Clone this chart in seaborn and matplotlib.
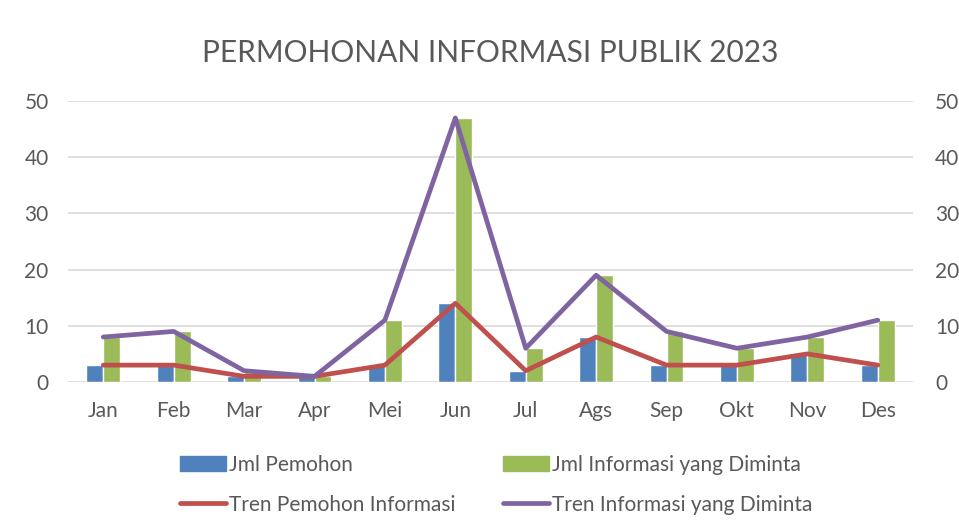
import numpy as np
import pandas as pd
import matplotlib
matplotlib.use("Agg")
import matplotlib.pyplot as plt
import seaborn as sns
from matplotlib.lines import Line2D
from matplotlib.patches import Patch

# ===============================
# Data
# ===============================

months = ["Jan", "Feb", "Mar", "Apr", "Mei", "Jun", "Jul", "Ags", "Sep", "Okt", "Nov", "Des"]
jml_pemohon = [3, 3, 1, 1, 3, 14, 2, 8, 3, 3, 5, 3]
jml_informasi = [8, 9, 2, 1, 11, 47, 6, 19, 9, 6, 8, 11]

bar_labels = ["Jml Pemohon", "Jml Informasi yang Diminta"]
line_labels = ["Tren Pemohon Informasi", "Tren Informasi yang Diminta"]

blue = "#4F81BD"
green = "#9BBB59"
red = "#C0504D"
purple = "#8064A2"
text_color = "#595959"

bars = pd.DataFrame({
    "Bulan": months * 2,
    "Jumlah": jml_pemohon + jml_informasi,
    "Seri": [bar_labels[0]] * len(months) + [bar_labels[1]] * len(months),
})

# ===============================
# Chart
# ===============================

sns.set_theme(style="white")
plt.rcParams["font.family"] = ["Lato", "DejaVu Sans"]

fig = plt.figure(figsize=(9.59, 5.32), dpi=100)
ax = fig.add_axes([0.071, 0.282, 0.881, 0.528])

sns.barplot(data=bars, x="Bulan", y="Jumlah", hue="Seri",
            palette=[blue, green], width=0.48, ax=ax,
            legend=False, saturation=1, zorder=2)

sns.lineplot(x=months, y=jml_pemohon, color=red, linewidth=3.4,
             sort=False, ax=ax, zorder=3)
sns.lineplot(x=months, y=jml_informasi, color=purple, linewidth=3.4,
             sort=False, ax=ax, zorder=3)

ax.set_ylim(0, 50)
ax.set_xlim(-0.5, len(months) - 0.5)
ax.set_yticks(range(0, 51, 10))
ax.yaxis.grid(True, color="#D9D9D9", linewidth=1.2, zorder=0)
ax.set_axisbelow(True)
ax.set_xlabel("")
ax.set_ylabel("")
for s in ax.spines.values():
    s.set_visible(False)
ax.tick_params(axis="both", length=0, labelsize=15, colors=text_color)
ax.tick_params(axis="x", pad=14)
ax.tick_params(axis="y", pad=14)

ax2 = ax.twinx()
ax2.set_ylim(0, 50)
ax2.set_yticks(range(0, 51, 10))
for s in ax2.spines.values():
    s.set_visible(False)
ax2.tick_params(axis="y", length=0, labelsize=15, colors=text_color, pad=16)
ax2.grid(False)

fig.text(0.511, 0.900, "PERMOHONAN INFORMASI PUBLIK 2023", ha="center", va="center",
         fontsize=21.5, color=text_color)

handles = [
    Patch(color=blue), Line2D([], [], color=red, linewidth=3.4, solid_capstyle="round"),
    Patch(color=green), Line2D([], [], color=purple, linewidth=3.4, solid_capstyle="round"),
]
labels = [bar_labels[0], line_labels[0], bar_labels[1], line_labels[1]]
fig.legend(handles, labels, ncol=2, loc="upper left", bbox_to_anchor=(0.168, 0.180),
           frameon=False, fontsize=15, labelcolor=text_color, handlelength=2.2,
           handletextpad=0.15, columnspacing=2.3, labelspacing=0.95)

fig.savefig("out.png", dpi=100, facecolor="white")
